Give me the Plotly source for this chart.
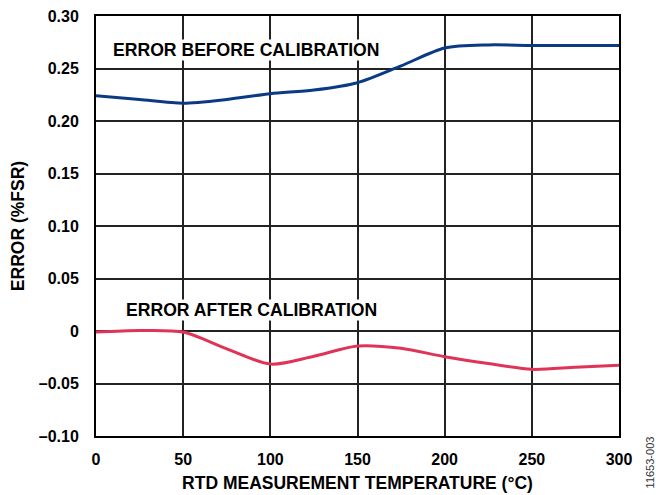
import plotly.graph_objects as go

temps = [0, 25, 50, 75, 100, 125, 150, 175, 200, 225, 250, 275, 300]
err_before = [0.224, 0.2205, 0.217, 0.2205, 0.226, 0.2295, 0.2365, 0.2525, 0.2695, 0.2725, 0.272, 0.272, 0.272]
err_after = [-0.001, 0.0005, -0.001, -0.017, -0.0315, -0.024, -0.0143, -0.0165, -0.0245, -0.031, -0.0365, -0.0345, -0.0325]

x_ticks = [0, 50, 100, 150, 200, 250, 300]
y_ticks = [0.30, 0.25, 0.20, 0.15, 0.10, 0.05, 0, -0.05, -0.10]
y_labels = ["0.30", "0.25", "0.20", "0.15", "0.10", "0.05", "0", "–0.05", "–0.10"]

font = "Liberation Sans, Arial, sans-serif"

fig = go.Figure()
fig.add_trace(go.Scatter(x=temps, y=err_before, mode="lines",
                         line=dict(color="#0B3A84", width=3, shape="spline", smoothing=0.8),
                         showlegend=False, hoverinfo="skip"))
fig.add_trace(go.Scatter(x=temps, y=err_after, mode="lines",
                         line=dict(color="#E03358", width=3, shape="spline", smoothing=0.8),
                         showlegend=False, hoverinfo="skip"))

fig.add_annotation(x=9, y=0.2676, xref="x", yref="y", text="<b>ERROR BEFORE CALIBRATION</b>",
                   showarrow=False, xanchor="left", yanchor="middle",
                   font=dict(family=font, size=17.6, color="black"), bgcolor="white", borderpad=0)
fig.add_annotation(x=16.5, y=0.020, xref="x", yref="y", text="<b>ERROR AFTER CALIBRATION</b>",
                   showarrow=False, xanchor="left", yanchor="middle",
                   font=dict(family=font, size=17.6, color="black"), bgcolor="white", borderpad=0)
fig.add_annotation(x=1.06, y=-0.062, xref="paper", yref="paper", text="11653-003",
                   showarrow=False, textangle=-90, xanchor="center", yanchor="middle",
                   font=dict(family=font, size=11, color="#333"))

fig.update_layout(
    width=656, height=495,
    margin=dict(l=96, r=37, t=16, b=59, autoexpand=False),
    paper_bgcolor="white", plot_bgcolor="white",
    font=dict(family=font, color="black"),
    xaxis=dict(range=[0, 300], tickvals=x_ticks, ticktext=[f"<b>{v}</b>" for v in x_ticks],
               showgrid=True, gridcolor="#222", gridwidth=1.5,
               showline=True, linecolor="black", linewidth=2, mirror=True,
               ticks="", ticklabelstandoff=8, ticklabeloverflow="allow",
               tickfont=dict(family=font, size=16, color="black"),
               title=dict(text="<b>RTD MEASUREMENT TEMPERATURE (°C)</b>",
                          font=dict(family=font, size=17.5, color="black"), standoff=10),
               zeroline=False, fixedrange=True, automargin=False),
    yaxis=dict(range=[-0.10, 0.30], tickvals=y_ticks, ticktext=[f"<b>{t}</b>" for t in y_labels],
               showgrid=True, gridcolor="#222", gridwidth=1.5,
               showline=True, linecolor="black", linewidth=2, mirror=True,
               ticks="", ticklabelstandoff=12, ticklabeloverflow="allow",
               tickfont=dict(family=font, size=16, color="black"),
               title=dict(text="<b>ERROR (%FSR)</b>",
                          font=dict(family=font, size=17.5, color="black"), standoff=10),
               zeroline=False, fixedrange=True, automargin=False),
)

fig.write_html("out.html", config={"displayModeBar": False},
               post_script="document.body.style.margin='0';document.body.style.padding='0';")
